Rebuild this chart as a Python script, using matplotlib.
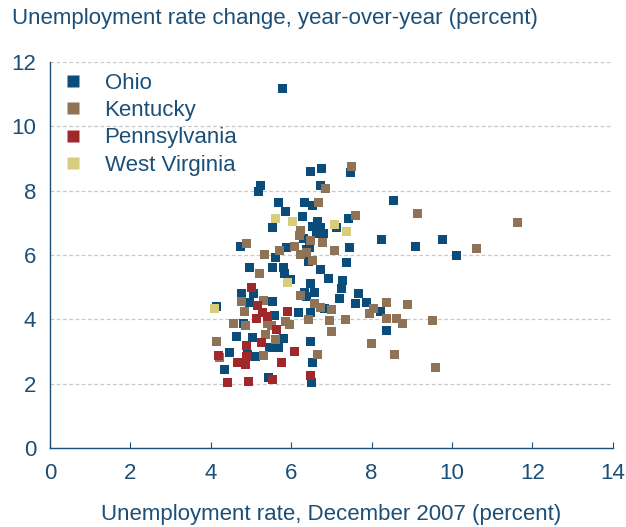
import matplotlib
matplotlib.use("Agg")
import matplotlib.pyplot as plt
from matplotlib.lines import Line2D

plt.rcParams["font.family"] = ["Liberation Sans", "DejaVu Sans"]

# County unemployment: rate in Dec 2007 (x) vs. year-over-year change (y)
ohio_x = [5.79, 6.48, 6.76, 7.48, 5.24, 5.19, 6.73, 5.68, 5.85, 6.33, 6.52, 8.55,
          5.54, 6.28, 6.65, 6.53, 6.72, 7.13, 7.42, 6.30, 6.63, 6.80, 6.45, 7.46,
          5.88, 4.73, 8.25, 9.08, 9.75, 10.11, 5.61, 6.38, 6.43, 7.38, 4.96, 5.53,
          5.80, 5.82, 5.99, 6.73, 6.92, 7.28, 7.26, 6.49, 6.59, 6.34, 7.67, 7.21,
          4.75, 5.06, 4.96, 5.54, 6.38, 7.61, 7.88, 8.21, 4.15, 5.58, 6.18, 6.48,
          6.82, 4.82, 8.38, 4.63, 5.04, 5.81, 6.47, 5.47, 5.69, 4.47, 5.10, 6.53,
          4.33, 5.43, 6.51, 4.92]
ohio_y = [11.17, 8.61, 8.69, 8.56, 8.16, 7.98, 8.17, 7.63, 7.36, 7.63, 7.55, 7.69,
          6.87, 7.21, 7.03, 6.89, 6.85, 6.85, 7.13, 6.51, 6.67, 6.67, 6.25, 6.25,
          6.25, 6.27, 6.49, 6.27, 6.48, 5.98, 5.92, 6.17, 5.79, 5.77, 5.61, 5.61,
          5.61, 5.44, 5.24, 5.56, 5.26, 5.20, 4.97, 5.12, 4.84, 4.85, 4.80, 4.65,
          4.80, 4.82, 4.52, 4.56, 4.70, 4.49, 4.51, 4.23, 4.39, 4.13, 4.22, 4.22,
          4.34, 3.86, 3.65, 3.48, 3.43, 3.42, 3.30, 3.14, 3.14, 2.97, 2.85, 2.66,
          2.43, 2.18, 2.04, 2.92]

kentucky_x = [7.50, 6.84, 6.67, 7.61, 9.14, 11.63, 6.22, 6.20, 6.47, 6.78, 4.88,
              6.07, 5.71, 7.07, 10.62, 5.33, 6.24, 6.38, 6.53, 5.22, 6.24, 4.75,
              5.31, 6.59, 6.72, 6.99, 8.36, 8.04, 7.94, 8.36, 8.89, 8.62, 8.77,
              9.52, 4.83, 6.44, 6.94, 7.35, 4.56, 4.87, 5.40, 5.51, 5.85, 5.95,
              5.35, 6.99, 5.60, 4.15, 8.00, 6.66, 5.31, 8.56, 9.60, 4.21]
kentucky_y = [8.74, 8.08, 7.63, 7.24, 7.28, 7.02, 6.77, 6.61, 6.45, 6.38, 6.35,
              6.27, 6.15, 6.15, 6.21, 6.02, 6.02, 6.07, 5.82, 5.43, 4.75, 4.55,
              4.60, 4.48, 4.36, 4.30, 4.51, 4.34, 4.17, 4.04, 4.47, 4.03, 3.87,
              3.98, 4.26, 4.00, 3.98, 4.01, 3.87, 3.81, 3.86, 3.80, 3.92, 3.84,
              3.52, 3.61, 3.36, 3.30, 3.26, 2.91, 2.87, 2.92, 2.49, 2.80]

penn_x = [5.02, 5.16, 5.29, 5.42, 5.14, 5.90, 5.63, 5.27, 4.89, 6.09, 4.19, 4.89,
          4.67, 4.85, 5.76, 5.54, 4.42, 4.93, 6.49]
penn_y = [4.99, 4.44, 4.20, 4.10, 4.04, 4.26, 3.68, 3.29, 3.20, 3.01, 2.87, 2.84,
          2.65, 2.59, 2.67, 2.12, 2.05, 2.06, 2.25]

wv_x = [5.62, 6.04, 7.07, 7.38, 5.91, 4.08]
wv_y = [7.13, 7.05, 6.95, 6.72, 5.15, 4.34]

states = ["Ohio", "Kentucky", "Pennsylvania", "West Virginia"]
colors = ["#0B4D7A", "#8F7357", "#A0282B", "#D8CD7E"]
series = [(ohio_x, ohio_y), (kentucky_x, kentucky_y), (penn_x, penn_y), (wv_x, wv_y)]

x_ticks = [0, 2, 4, 6, 8, 10, 12, 14]
y_ticks = [0, 2, 4, 6, 8, 10, 12]

text_color = "#1B4F78"
fs = 16

fig = plt.figure(figsize=(6.26, 5.27), dpi=100)
ax = fig.add_axes([0.080, 0.150, 0.899, 0.732])

for (xs, ys), c in zip(series, colors):
    ax.scatter(xs, ys, marker="s", s=42, color=c, edgecolors="none", zorder=3)

ax.set_xlim(0, 14)
ax.set_ylim(0, 12)
ax.set_xticks(x_ticks)
ax.set_yticks(y_ticks)
ax.set_xticklabels([str(t) for t in x_ticks])
ax.set_yticklabels([str(t) for t in y_ticks])

ax.grid(axis="y", color="#C8C8C8", linestyle=(0, (3, 2)), linewidth=0.9)
ax.set_axisbelow(True)

for side in ("top", "right"):
    ax.spines[side].set_visible(False)
for side in ("left", "bottom"):
    ax.spines[side].set_color(text_color)
    ax.spines[side].set_linewidth(1.0)

ax.tick_params(axis="x", direction="in", length=4, width=0.8, color=text_color,
               labelcolor=text_color, labelsize=fs, pad=11)
ax.tick_params(axis="y", length=0, labelcolor=text_color, labelsize=fs, pad=10)

ax.set_xlabel("Unemployment rate, December 2007 (percent)", fontsize=fs,
              color=text_color, labelpad=14)
fig.text(0.019, 0.965, "Unemployment rate change, year-over-year (percent)",
         fontsize=fs, color=text_color, ha="left", va="center")

handles = [Line2D([], [], marker="s", linestyle="none", markersize=8.5,
                  markerfacecolor=c, markeredgecolor="none") for c in colors]
leg = ax.legend(handles, states, loc="upper left", bbox_to_anchor=(0.01, 0.995),
                frameon=False, fontsize=fs, labelspacing=0.28, handlelength=0.8,
                handletextpad=1.0, borderaxespad=0.0)
for t in leg.get_texts():
    t.set_color(text_color)

fig.savefig("out.png", dpi=100)
